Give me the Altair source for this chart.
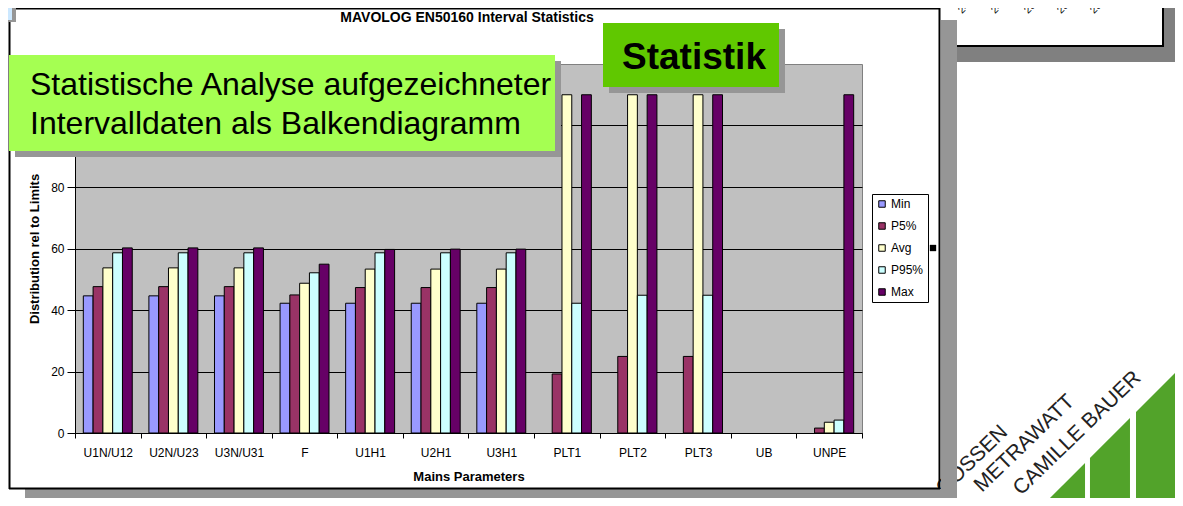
import altair as alt
import pandas as pd

# ---------------- data ----------------
categories = ["U1N/U12", "U2N/U23", "U3N/U31", "F", "U1H1", "U2H1",
              "U3H1", "PLT1", "PLT2", "PLT3", "UB", "UNPE"]
series = ["Min", "P5%", "Avg", "P95%", "Max"]
min_vals = [44.6, 44.6, 44.6, 42.2, 42.2, 42.2, 42.2, 0, 0, 0, 0, 0]
p5_vals = [47.6, 47.6, 47.6, 44.9, 47.3, 47.3, 47.3, 19.2, 24.9, 24.9, 0, 1.6]
avg_vals = [53.7, 53.7, 53.7, 48.7, 53.3, 53.3, 53.3, 110, 110, 110, 0, 3.5]
p95_vals = [58.6, 58.6, 58.6, 52.1, 58.6, 58.6, 58.6, 42.2, 44.8, 44.8, 0, 4.2]
max_vals = [60.2, 60.2, 60.2, 54.9, 59.7, 59.8, 59.8, 110, 110, 110, 0, 110]
colors = ["#9999FF", "#993366", "#FFFFCC", "#CCFFFF", "#660066"]
y_ticks = [0, 20, 40, 60, 80, 100]

title_text = "MAVOLOG EN50160 Interval Statistics"
box1_lines = ["Statistische Analyse aufgezeichneter", "Intervalldaten als Balkendiagramm"]
box2_text = "Statistik"
logo_lines = ["GOSSEN", "METRAWATT", "CAMILLE BAUER"]
bg_labels = ["2400", "2401", "2500", "2501", "2502"]

FONT = "Liberation Sans"

rows = []
for vals, s in zip([min_vals, p5_vals, avg_vals, p95_vals, max_vals], series):
    for c, v in zip(categories, vals):
        rows.append({"param": c, "series": s, "value": v})
df = pd.DataFrame(rows)

deco = pd.DataFrame({"k": [0]})

# plot origin on the page
OX, OY = 75, 64
def px(x):
    return x - OX
def py(y):
    return y - OY

def rect(x1, y1, x2, y2, fill):
    return alt.Chart(deco).mark_rect(fill=fill, strokeWidth=0).encode(
        x=alt.value(px(x1)), x2=alt.value(px(x2)),
        y=alt.value(py(y1)), y2=alt.value(py(y2)))

def rule(x1, y1, x2, y2, color="black", w=2):
    return alt.Chart(deco).mark_rule(color=color, strokeWidth=w).encode(
        x=alt.value(px(x1)), x2=alt.value(px(x2)),
        y=alt.value(py(y1)), y2=alt.value(py(y2)))

def text(t, x, y, size, weight="normal", align="left", angle=0, color="black",
         baseline="alphabetic"):
    return alt.Chart(deco).mark_text(
        text=t, font=FONT, fontSize=size, fontWeight=weight, align=align,
        baseline=baseline, angle=angle, color=color).encode(
        x=alt.value(px(x)), y=alt.value(py(y)))

layers = []

# chart in the background, top right
layers.append(rect(957, 47, 1176, 62, "#808080"))
layers.append(rect(1164, 8, 1176, 62, "#808080"))
layers.append(rule(941, 46, 1164, 46))
layers.append(rule(1163, 8, 1163, 46))
for i, t in enumerate(bg_labels):
    layers.append(text(t, 962 + 33 * i, 14, 10, angle=315))

# logo
layers.append(alt.Chart(deco).mark_point(
    shape="M-1,1L-0.417,1L-0.417,0.417Z M-0.339,1L0.291,1L0.291,-0.291L-0.339,0.339Z "
          "M0.386,1L1,1L1,-1L0.386,-0.386Z",
    filled=True, size=16129, color="#52A32A", opacity=1, strokeWidth=0).encode(
    x=alt.value(px(1111.5)), y=alt.value(py(436.5))))
logo_pos = [(944, 496), (982, 493), (1021, 496)]
for t, (x, y) in zip(logo_lines, logo_pos):
    layers.append(text(t, x, y, 21, angle=316, color="#222222"))

# main frame shadow and border
layers.append(rect(941, 20, 957, 499, "#969696"))
layers.append(rect(25, 489, 957, 499, "#969696"))
layers.append(rule(9.5, 8.5, 939.5, 8.5))
layers.append(rule(9.5, 8, 9.5, 489))
layers.append(rule(939.5, 8, 939.5, 489))
layers.append(rule(9, 488.5, 940, 488.5))

# little box top-left
layers.append(rect(8, 8, 16, 22, "#969696"))
layers.append(rect(8, 8, 12, 20, "#CCE8FF"))

# the bar chart
bars = alt.Chart(df).transform_filter("datum.value > 0").mark_bar(
    stroke="#000000", strokeWidth=1).encode(
    x=alt.X("param:N", sort=categories,
            scale=alt.Scale(domain=categories, paddingInner=0, paddingOuter=0),
            axis=alt.Axis(title="Mains Parameters", titleFont=FONT, titleFontSize=13,
                          titleFontWeight="bold", titleColor="black", titlePadding=12,
                          labelFont=FONT, labelFontSize=12, labelColor="black",
                          labelAngle=0, labelPadding=9, tickBand="extent", tickSize=5,
                          tickColor="black", domainColor="black", grid=False)),
    xOffset=alt.XOffset("series:N", sort=series,
                        scale=alt.Scale(domain=series, paddingOuter=0.85, paddingInner=0)),
    y=alt.Y("value:Q", scale=alt.Scale(domain=[0, 120], nice=False),
            axis=alt.Axis(title="Distribution rel to Limits", titleFont=FONT,
                          titleFontSize=13, titleFontWeight="bold", titleColor="black",
                          titlePadding=9, values=y_ticks, labelFont=FONT,
                          labelExpr="datum.value >= 100 ? '' : datum.label",
                          labelFontSize=12, labelColor="black", labelPadding=3,
                          tickSize=8, tickColor="black", domainColor="black",
                          gridColor="black", gridWidth=1)),
    color=alt.Color("series:N", sort=series,
                    scale=alt.Scale(domain=series, range=colors),
                    legend=alt.Legend(title=None, orient="none", legendX=797, legendY=130,
                                      symbolType="square", symbolSize=42,
                                      symbolStrokeColor="black", symbolStrokeWidth=1,
                                      labelFont=FONT, labelFontSize=12, labelColor="black",
                                      labelOffset=3, rowPadding=10, padding=4,
                                      strokeColor="black", fillColor="white")),
)
layers.append(bars)

# small black marker right of legend
layers.append(alt.Chart(deco).mark_point(shape="square", filled=True, size=40,
                                         color="black", opacity=1).encode(
    x=alt.value(px(933)), y=alt.value(py(248))))

# chart title
layers.append(text(title_text, 467, 22, 14, weight="bold", align="center"))

# green overlay box 1
layers.append(rect(15, 61, 561, 157, "#969696"))
layers.append(rect(9, 55, 555, 151, "#A5FF52"))
layers.append(text(box1_lines[0], 30, 95, 32))
layers.append(text(box1_lines[1], 30, 134, 32))

# green overlay box 2
layers.append(rect(609, 29, 785, 93, "#969696"))
layers.append(rect(603, 23, 779, 87, "#60C800"))
layers.append(text(box2_text, 694, 69, 37, weight="bold", align="center"))

chart = alt.layer(*layers).properties(
    width=787, height=369,
    padding={"left": 67, "top": 56, "right": 313, "bottom": 65},
    autosize=alt.AutoSizeParams(type="none"),
    background="white",
).configure_view(fill="#C0C0C0", stroke="#808080", strokeWidth=1)

chart.save("out.html", embed_options={"renderer": "svg", "actions": False})
